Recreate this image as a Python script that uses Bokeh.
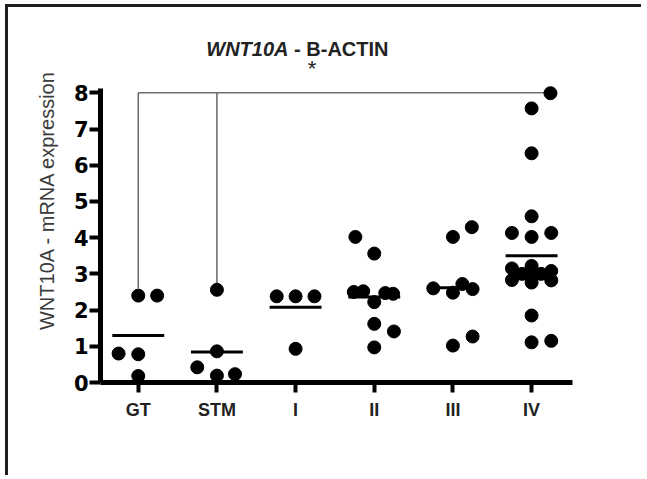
from bokeh.plotting import figure
from bokeh.models import Range1d, FixedTicker, Label
from bokeh.embed import file_html
from bokeh.resources import INLINE

# ---- data ----
categories = ["GT", "STM", "I", "II", "III", "IV"]

gt_vals = [2.40, 2.40, 0.80, 0.78, 0.18]
gt_jit = [0.0, 0.24, -0.25, 0.0, 0.0]

stm_vals = [2.56, 0.86, 0.42, 0.19, 0.23]
stm_jit = [0.0, 0.0, -0.25, 0.0, 0.23]

i_vals = [2.38, 2.38, 2.38, 0.93]
i_jit = [-0.24, 0.0, 0.24, 0.0]

ii_vals = [4.02, 3.56, 2.50, 2.52, 2.47, 2.45, 2.22, 1.62, 1.41, 0.97]
ii_jit = [-0.24, 0.0, -0.26, -0.14, 0.14, 0.24, 0.0, 0.0, 0.25, 0.0]

iii_vals = [4.29, 4.02, 2.60, 2.48, 2.72, 2.58, 1.02, 1.27]
iii_jit = [0.24, 0.0, -0.25, 0.0, 0.12, 0.25, 0.0, 0.25]

iv_vals = [7.99, 7.57, 6.33, 4.59, 4.13, 4.02, 4.13,
           3.15, 2.83, 3.22, 3.05, 2.90, 2.76, 3.08, 2.82, 3.00, 3.00,
           1.85, 1.11, 1.15]
iv_jit = [0.24, 0.0, 0.0, 0.0, -0.25, 0.0, 0.25,
          -0.25, -0.25, 0.0, 0.0, 0.0, 0.0, 0.25, 0.25, -0.12, 0.12,
          0.0, 0.0, 0.25]

means = [1.30, 0.84, 2.08, 2.36, 2.62, 3.50]

# significance bracket (GT vs IV, STM vs IV)
bracket_top = 8.0
bracket_end = 6.24
bracket_groups = [1, 2]
bracket_lows = [2.6, 2.65]

y_ticks = [0, 1, 2, 3, 4, 5, 6, 7, 8]
y_axis_extent = (0, 8.12)

groups_vals = [gt_vals, stm_vals, i_vals, ii_vals, iii_vals, iv_vals]
groups_jit = [gt_jit, stm_jit, i_jit, ii_jit, iii_jit, iv_jit]

p = figure(width=636, height=471,
           x_range=Range1d(0.52, 6.52), y_range=Range1d(0, 10.08),
           output_backend="svg", toolbar_location=None,
           min_border_left=92, min_border_right=72,
           min_border_top=10, min_border_bottom=96)
p.styles = {"box-shadow": "-3px -3px 0px 0px #1e1e1e",
            "margin-top": "7px", "margin-left": "8px"}
p.outline_line_color = None
p.xgrid.visible = False
p.ygrid.visible = False
p.background_fill_color = "white"
p.border_fill_color = "white"

# bracket
p.segment(x0=[1], y0=[bracket_top], x1=[bracket_end], y1=[bracket_top],
          line_color="#6e6e6e", line_width=1.6)
p.segment(x0=bracket_groups, y0=[bracket_top] * len(bracket_groups),
          x1=bracket_groups, y1=bracket_lows, line_color="#6e6e6e", line_width=1.6)

# points
xs, ys = [], []
for gi, (vals, jit) in enumerate(zip(groups_vals, groups_jit)):
    for v, j in zip(vals, jit):
        xs.append(gi + 1 + j)
        ys.append(v)
p.scatter(xs, ys, marker="circle", size=13, fill_color="black", line_color="black")

# mean lines
cx = [i + 1 for i in range(len(categories))]
p.segment(x0=[c - 0.33 for c in cx], y0=means, x1=[c + 0.33 for c in cx], y1=means,
          line_color="black", line_width=3)

# axes
ya = p.yaxis[0]
ya.bounds = y_axis_extent
ya.ticker = FixedTicker(ticks=y_ticks)
ya.axis_line_width = 5
ya.major_tick_line_width = 4
ya.major_tick_out = 11
ya.major_tick_in = 0
ya.minor_tick_out = 0
ya.minor_tick_in = 0
ya.major_label_text_font = "DejaVu Sans"
ya.major_label_text_font_style = "bold"
ya.major_label_text_font_size = "21px"
ya.major_label_text_color = "black"
ya.major_label_standoff = 1
ya.axis_label = "WNT10A - mRNA expression"
ya.axis_label_text_font = "Liberation Sans"
ya.axis_label_text_font_style = "normal"
ya.axis_label_text_font_size = "20px"
ya.axis_label_text_color = "#3a3a3a"
ya.axis_label_standoff = 13

xa = p.xaxis[0]
xa.ticker = FixedTicker(ticks=cx)
xa.major_label_overrides = {c: name for c, name in zip(cx, categories)}
xa.axis_line_width = 5
xa.major_tick_line_width = 4
xa.major_tick_out = 10
xa.major_tick_in = 0
xa.minor_tick_out = 0
xa.minor_tick_in = 0
xa.major_label_text_font = "Liberation Sans"
xa.major_label_text_font_style = "bold"
xa.major_label_text_font_size = "18px"
xa.major_label_text_color = "#222222"
xa.major_label_standoff = 7

# title (inside the plotting area, above the data)
p.add_layout(Label(x=2.91, y=9.215, text="WNT10A", text_font="Liberation Sans",
                   text_font_style="bold italic", text_font_size="20px",
                   text_color="#222222", text_align="right", text_baseline="alphabetic"))
p.add_layout(Label(x=2.91, y=9.215, text="\u00a0- B-ACTIN", text_font="Liberation Sans",
                   text_font_style="bold", text_font_size="20px",
                   text_color="#222222", text_align="left", text_baseline="alphabetic"))
p.add_layout(Label(x=3.21, y=8.66, text="*", text_font="Liberation Sans",
                   text_font_style="normal", text_font_size="22px",
                   text_color="#222222", text_align="center", text_baseline="alphabetic"))

open("out.html", "w").write(file_html(p, INLINE))
